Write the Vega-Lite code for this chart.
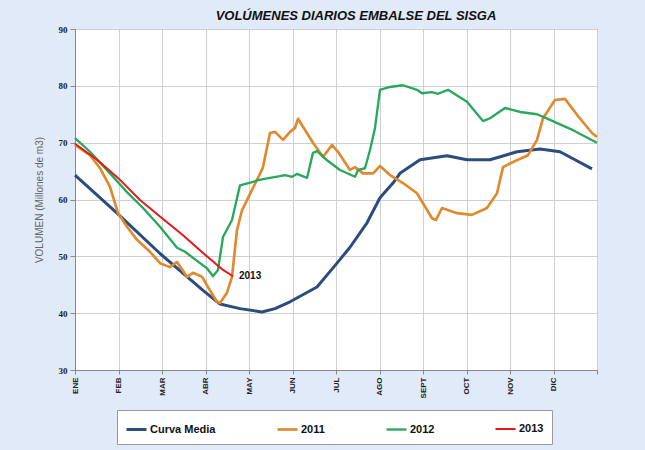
{
  "$schema": "https://vega.github.io/schema/vega-lite/v6.json",
  "width": 522,
  "height": 341,
  "autosize": "none",
  "padding": {"left": 75, "top": 29, "right": 48, "bottom": 80},
  "background": "#e1eaf8",
  "title": {"text": "VOLÚMENES DIARIOS EMBALSE DEL SISGA", "font": "Liberation Sans", "fontSize": 13, "fontStyle": "italic", "fontWeight": "bold", "color": "#111", "anchor": "middle", "dx": 20, "offset": 2},
  "config": {
    "view": {"fill": "white", "stroke": "#888", "strokeWidth": 1},
    "axis": {"gridColor": "#cfcfcf", "gridWidth": 1, "domainColor": "#888", "tickColor": "#888"}
  },
  "layer": [
    {
      "data": {"values": [
        {"s": "Curva Media", "m": 0, "v": 64.3},
        {"s": "Curva Media", "m": 0.966, "v": 57.6},
        {"s": "Curva Media", "m": 1.954, "v": 50.5},
        {"s": "Curva Media", "m": 2.943, "v": 44.0},
        {"s": "Curva Media", "m": 3.333, "v": 41.6},
        {"s": "Curva Media", "m": 3.793, "v": 40.8},
        {"s": "Curva Media", "m": 4.299, "v": 40.2},
        {"s": "Curva Media", "m": 4.598, "v": 40.8},
        {"s": "Curva Media", "m": 4.943, "v": 42.0},
        {"s": "Curva Media", "m": 5.563, "v": 44.6},
        {"s": "Curva Media", "m": 6.023, "v": 48.8},
        {"s": "Curva Media", "m": 6.322, "v": 51.6},
        {"s": "Curva Media", "m": 6.713, "v": 55.9},
        {"s": "Curva Media", "m": 7.011, "v": 60.3},
        {"s": "Curva Media", "m": 7.31, "v": 62.9},
        {"s": "Curva Media", "m": 7.471, "v": 64.6},
        {"s": "Curva Media", "m": 7.931, "v": 67.0},
        {"s": "Curva Media", "m": 8.552, "v": 67.7},
        {"s": "Curva Media", "m": 9.011, "v": 67.0},
        {"s": "Curva Media", "m": 9.54, "v": 67.0},
        {"s": "Curva Media", "m": 10.161, "v": 68.4},
        {"s": "Curva Media", "m": 10.69, "v": 68.9},
        {"s": "Curva Media", "m": 11.149, "v": 68.4},
        {"s": "Curva Media", "m": 11.494, "v": 67.0},
        {"s": "Curva Media", "m": 11.885, "v": 65.4},

        {"s": "2011", "m": 0, "v": 69.6},
        {"s": "2011", "m": 0.345, "v": 67.8},
        {"s": "2011", "m": 0.575, "v": 65.5},
        {"s": "2011", "m": 0.805, "v": 62.2},
        {"s": "2011", "m": 0.989, "v": 57.6},
        {"s": "2011", "m": 1.195, "v": 55.2},
        {"s": "2011", "m": 1.425, "v": 52.9},
        {"s": "2011", "m": 1.724, "v": 50.8},
        {"s": "2011", "m": 1.954, "v": 48.8},
        {"s": "2011", "m": 2.184, "v": 48.1},
        {"s": "2011", "m": 2.345, "v": 49.0},
        {"s": "2011", "m": 2.575, "v": 46.4},
        {"s": "2011", "m": 2.713, "v": 47.1},
        {"s": "2011", "m": 2.92, "v": 46.4},
        {"s": "2011", "m": 3.103, "v": 44.0},
        {"s": "2011", "m": 3.264, "v": 42.0},
        {"s": "2011", "m": 3.333, "v": 41.8},
        {"s": "2011", "m": 3.494, "v": 43.6},
        {"s": "2011", "m": 3.609, "v": 46.4},
        {"s": "2011", "m": 3.724, "v": 54.6},
        {"s": "2011", "m": 3.839, "v": 58.1},
        {"s": "2011", "m": 4.069, "v": 61.7},
        {"s": "2011", "m": 4.253, "v": 64.5},
        {"s": "2011", "m": 4.322, "v": 65.7},
        {"s": "2011", "m": 4.483, "v": 71.7},
        {"s": "2011", "m": 4.598, "v": 71.9},
        {"s": "2011", "m": 4.782, "v": 70.5},
        {"s": "2011", "m": 4.943, "v": 71.9},
        {"s": "2011", "m": 5.057, "v": 72.6},
        {"s": "2011", "m": 5.126, "v": 74.2},
        {"s": "2011", "m": 5.241, "v": 72.8},
        {"s": "2011", "m": 5.471, "v": 70.0},
        {"s": "2011", "m": 5.701, "v": 67.5},
        {"s": "2011", "m": 5.908, "v": 69.6},
        {"s": "2011", "m": 6.046, "v": 68.4},
        {"s": "2011", "m": 6.322, "v": 65.2},
        {"s": "2011", "m": 6.437, "v": 65.7},
        {"s": "2011", "m": 6.621, "v": 64.6},
        {"s": "2011", "m": 6.851, "v": 64.6},
        {"s": "2011", "m": 7.011, "v": 65.9},
        {"s": "2011", "m": 7.241, "v": 64.3},
        {"s": "2011", "m": 7.54, "v": 62.9},
        {"s": "2011", "m": 7.862, "v": 61.1},
        {"s": "2011", "m": 8.207, "v": 56.7},
        {"s": "2011", "m": 8.299, "v": 56.4},
        {"s": "2011", "m": 8.437, "v": 58.5},
        {"s": "2011", "m": 8.782, "v": 57.6},
        {"s": "2011", "m": 9.126, "v": 57.3},
        {"s": "2011", "m": 9.471, "v": 58.5},
        {"s": "2011", "m": 9.701, "v": 61.1},
        {"s": "2011", "m": 9.839, "v": 65.7},
        {"s": "2011", "m": 10.069, "v": 66.6},
        {"s": "2011", "m": 10.414, "v": 67.8},
        {"s": "2011", "m": 10.621, "v": 70.5},
        {"s": "2011", "m": 10.759, "v": 74.3},
        {"s": "2011", "m": 11.034, "v": 77.5},
        {"s": "2011", "m": 11.264, "v": 77.7},
        {"s": "2011", "m": 11.54, "v": 74.9},
        {"s": "2011", "m": 11.885, "v": 71.7},
        {"s": "2011", "m": 12.0, "v": 71.0},

        {"s": "2012", "m": 0, "v": 70.8},
        {"s": "2012", "m": 0.345, "v": 68.4},
        {"s": "2012", "m": 0.805, "v": 64.6},
        {"s": "2012", "m": 1.195, "v": 61.3},
        {"s": "2012", "m": 1.563, "v": 58.5},
        {"s": "2012", "m": 1.954, "v": 55.2},
        {"s": "2012", "m": 2.345, "v": 51.5},
        {"s": "2012", "m": 2.529, "v": 50.8},
        {"s": "2012", "m": 2.874, "v": 48.8},
        {"s": "2012", "m": 3.034, "v": 47.9},
        {"s": "2012", "m": 3.172, "v": 46.5},
        {"s": "2012", "m": 3.287, "v": 47.6},
        {"s": "2012", "m": 3.402, "v": 53.4},
        {"s": "2012", "m": 3.609, "v": 56.4},
        {"s": "2012", "m": 3.793, "v": 62.5},
        {"s": "2012", "m": 4.092, "v": 63.1},
        {"s": "2012", "m": 4.207, "v": 63.4},
        {"s": "2012", "m": 4.483, "v": 63.8},
        {"s": "2012", "m": 4.713, "v": 64.1},
        {"s": "2012", "m": 4.828, "v": 64.3},
        {"s": "2012", "m": 4.989, "v": 64.0},
        {"s": "2012", "m": 5.103, "v": 64.5},
        {"s": "2012", "m": 5.333, "v": 63.8},
        {"s": "2012", "m": 5.471, "v": 68.2},
        {"s": "2012", "m": 5.563, "v": 68.5},
        {"s": "2012", "m": 5.793, "v": 66.9},
        {"s": "2012", "m": 6.092, "v": 65.2},
        {"s": "2012", "m": 6.437, "v": 64.0},
        {"s": "2012", "m": 6.506, "v": 65.2},
        {"s": "2012", "m": 6.667, "v": 65.5},
        {"s": "2012", "m": 6.782, "v": 68.7},
        {"s": "2012", "m": 6.897, "v": 72.6},
        {"s": "2012", "m": 7.011, "v": 79.3},
        {"s": "2012", "m": 7.241, "v": 79.8},
        {"s": "2012", "m": 7.54, "v": 80.1},
        {"s": "2012", "m": 7.862, "v": 79.3},
        {"s": "2012", "m": 7.977, "v": 78.7},
        {"s": "2012", "m": 8.207, "v": 78.9},
        {"s": "2012", "m": 8.345, "v": 78.6},
        {"s": "2012", "m": 8.575, "v": 79.3},
        {"s": "2012", "m": 9.011, "v": 77.2},
        {"s": "2012", "m": 9.379, "v": 73.8},
        {"s": "2012", "m": 9.54, "v": 74.3},
        {"s": "2012", "m": 9.885, "v": 76.1},
        {"s": "2012", "m": 10.23, "v": 75.4},
        {"s": "2012", "m": 10.621, "v": 75.0},
        {"s": "2012", "m": 10.92, "v": 74.0},
        {"s": "2012", "m": 11.448, "v": 72.2},
        {"s": "2012", "m": 12.0, "v": 70.0},

        {"s": "2013", "m": 0, "v": 69.8},
        {"s": "2013", "m": 0.506, "v": 67.0},
        {"s": "2013", "m": 0.989, "v": 63.8},
        {"s": "2013", "m": 1.494, "v": 59.9},
        {"s": "2013", "m": 1.954, "v": 57.0},
        {"s": "2013", "m": 2.483, "v": 53.7},
        {"s": "2013", "m": 2.943, "v": 50.6},
        {"s": "2013", "m": 3.402, "v": 47.6},
        {"s": "2013", "m": 3.632, "v": 46.5}
      ]},
      "mark": {"type": "line", "interpolate": "linear", "strokeJoin": "round"},
      "encoding": {
        "x": {"field": "m", "type": "quantitative",
          "scale": {"domain": [0, 12], "nice": false, "zero": false},
          "axis": {"values": [0,1,2,3,4,5,6,7,8,9,10,11,12], "title": null,
            "labelExpr": "['ENE','FEB','MAR','ABR','MAY','JUN','JUL','AGO','SEPT','OCT','NOV','DIC',''][datum.value]",
            "labelAngle": 270, "labelAlign": "right", "labelBaseline": "middle",
            "labelFont": "Liberation Sans", "labelFontWeight": "bold", "labelFontSize": 8, "labelColor": "#222",
            "tickSize": 4, "labelPadding": 3}},
        "y": {"field": "v", "type": "quantitative",
          "scale": {"domain": [30, 90], "nice": false, "zero": false},
          "axis": {"values": [30,40,50,60,70,80,90], "title": "VOLUMEN (Millones de m3)",
            "titleFont": "Liberation Sans", "titleFontWeight": "normal", "titleFontSize": 10, "titleColor": "#666",
            "titlePadding": 14,
            "labelFont": "Liberation Serif", "labelFontWeight": "bold", "labelFontSize": 9, "labelColor": "#222",
            "tickSize": 5, "labelPadding": 3}},
        "color": {"field": "s", "type": "nominal",
          "scale": {"domain": ["Curva Media", "2011", "2012", "2013"], "range": ["#2c4c7c", "#e0892e", "#27a85c", "#e3191c"]},
          "legend": {"title": null, "orient": "none", "direction": "horizontal", "columns": 4, "gridAlign": "none",
            "legendX": 42, "legendY": 381, "padding": 8, "fillColor": "white", "strokeColor": "#999",
            "symbolType": "stroke", "symbolSize": 400, "symbolStrokeWidth": 3, "labelOffset": 2,
            "labelFont": "Liberation Sans", "labelFontWeight": "bold", "labelFontSize": 11, "labelColor": "#111",
            "columnPadding": 56}},
        "strokeWidth": {"field": "s", "type": "nominal",
          "scale": {"domain": ["Curva Media", "2011", "2012", "2013"], "range": [3, 2, 2, 3.2]}, "legend": null}
      }
    },
    {
      "data": {"values": [{"m": 3.632, "v": 46.5, "label": "2013"}]},
      "mark": {"type": "text", "align": "left", "baseline": "middle", "dx": 6, "font": "Liberation Sans", "fontWeight": "bold", "fontSize": 10, "color": "#111"},
      "encoding": {
        "x": {"field": "m", "type": "quantitative"},
        "y": {"field": "v", "type": "quantitative"},
        "text": {"field": "label"}
      }
    }
  ]
}
